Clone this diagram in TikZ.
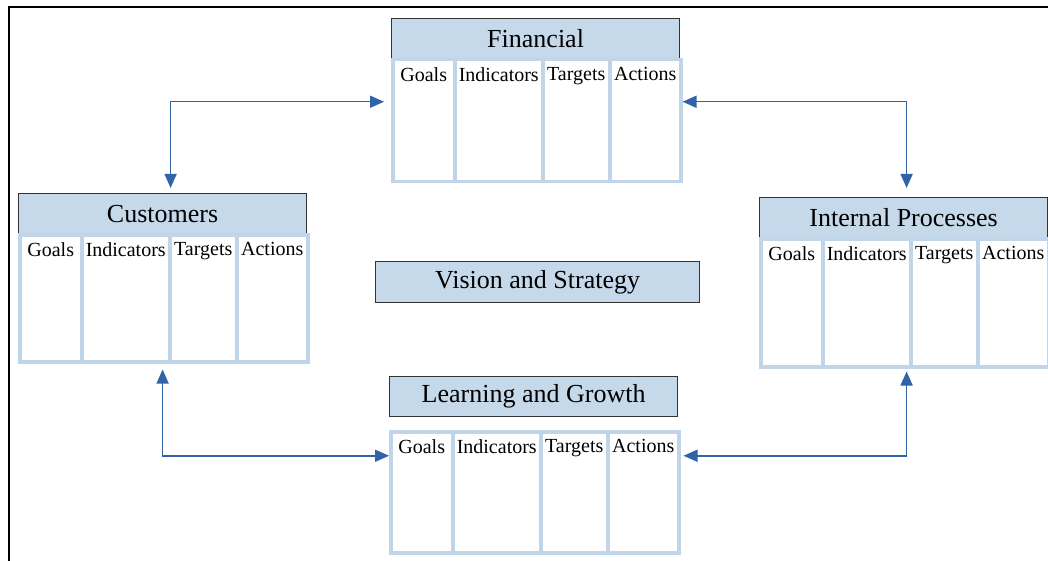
\documentclass[tikz,border=0pt]{standalone}
\usepackage{fontspec}
\setmainfont{Liberation Serif}
\usetikzlibrary{arrows.meta}

\definecolor{headblue}{RGB}{197,217,235}
\definecolor{colblue}{RGB}{192,213,234}
\definecolor{linkblue}{RGB}{48,99,168}

\tikzset{
  head/.style={draw=black!80,line width=1.2pt,fill=headblue,inner sep=0pt,
    minimum height=40pt,anchor=north west,font=\fontsize{26pt}{30pt}\selectfont},
  col/.style={draw=colblue,line width=3.5pt,fill=white,inner sep=0pt,anchor=north west},
  coltext/.style={anchor=north,inner sep=2pt,font=\fontsize{20pt}{24pt}\selectfont},
  link/.style={draw=linkblue,line width=1.5pt,
    {Triangle[length=14pt,width=12pt]}-{Triangle[length=14pt,width=12pt]}}
}

% one perspective: title bar with its four columns underneath
% #1 name, #2 left, #3 top, #4 title, #5 gap under the bar, #6 column height
\newcommand{\perspective}[6]{%
  \node[head,minimum width=288pt] (#1) at (#2,#3) {#4};
  \foreach \key/\lbl/\colw/\colx in {goals/Goals/62/0,indicators/Indicators/88/62,
      targets/Targets/67/150,actions/Actions/71/217} {
    \node[col,minimum width=\colw pt,minimum height=#6pt] (#1-\key) at ({#2+\colx},{#3+40+#5}) {};
    \node[coltext] (#1-\key-txt) at ([yshift=-7pt]#1-\key.north) {\lbl};
  }
}

\begin{document}
\begin{tikzpicture}[x=1pt,y=-1pt]

  \useasboundingbox (0,0) rectangle (1048,561);

  % page frame (left and top only)
  \draw[line width=2pt] (9,561) -- (9,7) -- (1048,7);

  % --- the four perspectives ---
  \perspective{fin}{391}{18}{Financial}{0}{122}
  \perspective{cust}{18}{193}{Customers}{0}{127}
  \perspective{intp}{759}{197}{Internal Processes}{0}{128}
  \perspective{learn}{389}{376}{Learning and Growth}{14}{121}

  % --- centre ---
  \node[head,minimum width=324pt,minimum height=41pt] (vis) at (375,261) {Vision and Strategy};

  % --- links between perspectives ---
  \coordinate (cust-foot) at (cust.north |- cust-targets.south);
  \coordinate (intp-foot) at (intp.north |- intp-targets.south);

  \draw[link] ([xshift=-7pt,yshift=19pt]fin-goals.west) -| ([xshift=8pt,yshift=5pt]cust.north);
  \draw[link] ([yshift=19pt]fin-actions.east) -| ([xshift=3pt,yshift=9pt]intp.north);
  \draw[link] ([yshift=-6pt]cust-foot) |- ([yshift=36.5pt]learn-goals.west);
  \draw[link] ([xshift=3pt,yshift=-3pt]intp-foot) |- ([xshift=3pt,yshift=36.5pt]learn-actions.east);

\end{tikzpicture}
\end{document}
